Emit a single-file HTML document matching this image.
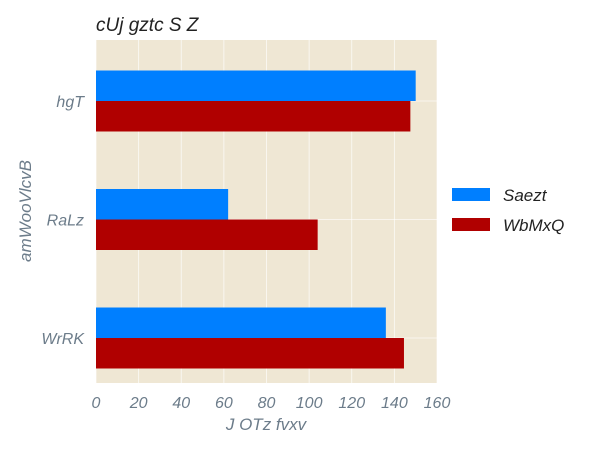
<!DOCTYPE html>
<html><head><meta charset="utf-8"><style>
body{margin:0;background:#fff;}
svg text{font-family:"Liberation Sans",sans-serif;font-style:italic;}
</style></head><body>
<svg width="600" height="450" xmlns="http://www.w3.org/2000/svg">
<rect x="96" y="40" width="341" height="343" fill="#efe7d4"/>
<g id="grid"></g>
<g id="bars"></g>
<g id="ticks"></g>
<text x="96" y="31" font-size="19" fill="#222">cUj gztc S Z</text>
<text x="266" y="430" font-size="17" fill="#6c7c8a" text-anchor="middle">J OTz fvxv</text>
<text transform="translate(31,211) rotate(-90)" font-size="17" fill="#6c7c8a" text-anchor="middle">amWooVlcvB</text>
<g>
<rect x="452" y="188" width="38" height="13" fill="#007fff"/>
<text x="503" y="201" font-size="17" fill="#222">Saezt</text>
<rect x="452" y="218" width="38" height="13" fill="#b00000"/>
<text x="503" y="231" font-size="17" fill="#222">WbMxQ</text>
</g>
</svg>
<script>
const categories=["hgT","RaLz","WrRK"];
const seriesSaezt=[150,62,136];
const seriesWbMxQ=[147.5,104,144.5];
const xTicks=[0,20,40,60,80,100,120,140,160];
const NS="http://www.w3.org/2000/svg";
const x0=96,x1=437,xMax=160;
const xs=v=>x0+(x1-x0)*v/xMax;
const ys=i=>101+118.5*i;
const bh=30.5;
function mk(t,a,p){const e=document.createElementNS(NS,t);for(const k in a)e.setAttribute(k,a[k]);p.appendChild(e);return e;}
const grid=document.getElementById('grid'),bars=document.getElementById('bars'),ticks=document.getElementById('ticks');
xTicks.forEach(t=>{
 const l=mk('line',{x1:xs(t),x2:xs(t),y1:40,y2:383,stroke:'#fff','stroke-width':0.8,opacity:0.8},grid);
 
 
 const tx=mk('text',{x:xs(t),y:408,'font-size':16,fill:'#6c7c8a','text-anchor':'middle'},ticks);
 tx.textContent=t;
 
 
});
categories.forEach((c,i)=>{
 const l=mk('line',{x1:96,x2:437,y1:ys(i),y2:ys(i),stroke:'#fff','stroke-width':0.8,opacity:0.8},grid);
 
 
 const b1=mk('rect',{x:x0,y:ys(i)-bh,width:xs(seriesSaezt[i])-x0,height:bh,fill:'#007fff'},bars);
 
 
 const b2=mk('rect',{x:x0,y:ys(i),width:xs(seriesWbMxQ[i])-x0,height:bh,fill:'#b00000'},bars);
 
 
 const tx=mk('text',{x:84,y:ys(i)+6,'font-size':16,fill:'#6c7c8a','text-anchor':'end'},ticks);
 tx.textContent=c;
 
 
});
</script>
</body></html>
